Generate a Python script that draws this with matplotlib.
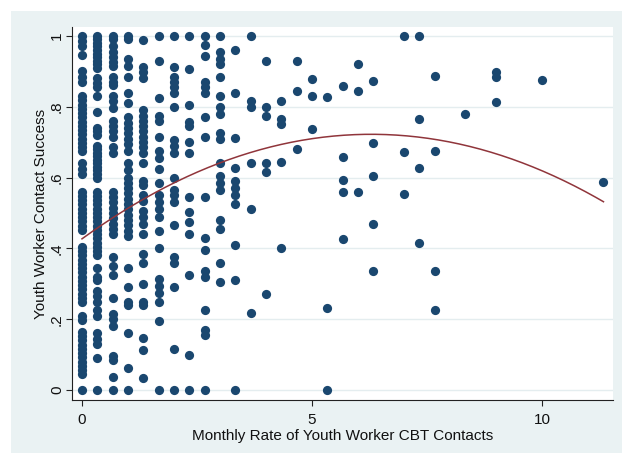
import numpy as np
import matplotlib
matplotlib.use("Agg")
import matplotlib.pyplot as plt
from matplotlib.patches import Rectangle

plt.rcParams['font.family'] = ['Liberation Sans', 'DejaVu Sans']

# Monthly rate of youth worker CBT contacts (one entry per observed level)
rates = [0.0, 0.333, 0.667, 1.0, 1.333, 1.667, 2.0, 2.333, 2.667, 3.0,
         3.333, 3.667, 4.0, 4.333, 4.667, 5.0, 5.333, 5.667, 6.0, 6.333,
         7.0, 7.333, 7.667, 8.333, 9.0, 10.0, 11.333]

# Youth worker contact success for the cases at each rate level
success = [
    [1.0, 0.985, 0.97, 0.945, 0.90, 0.885, 0.87,
     0.83, 0.818, 0.806, 0.794, 0.782, 0.77, 0.758, 0.746, 0.734, 0.722, 0.71, 0.698, 0.686, 0.674,
     0.64, 0.625, 0.61,
     0.56, 0.548, 0.536, 0.524, 0.512, 0.5, 0.488, 0.476, 0.464, 0.452,
     0.404, 0.392, 0.38, 0.368, 0.356, 0.344, 0.332, 0.32, 0.308, 0.296, 0.284, 0.272, 0.26, 0.248,
     0.21, 0.197,
     0.164, 0.152, 0.14, 0.128, 0.116, 0.104, 0.092, 0.08, 0.068, 0.056, 0.044, 0.0],
    [1.0, 0.99, 0.98, 0.97, 0.96, 0.95, 0.94, 0.93, 0.92, 0.91,
     0.88, 0.867, 0.855, 0.83, 0.785, 0.74, 0.73, 0.72,
     0.69, 0.68, 0.67, 0.66, 0.65, 0.64, 0.63, 0.62, 0.61, 0.6,
     0.56, 0.548, 0.536, 0.524, 0.512, 0.5, 0.488, 0.476, 0.464, 0.452, 0.44, 0.428, 0.416, 0.404,
     0.392, 0.38, 0.345, 0.32, 0.31, 0.28, 0.265, 0.25, 0.225, 0.21,
     0.16, 0.145, 0.13, 0.09, 0.0],
    [1.0, 0.99, 0.97, 0.955, 0.94, 0.925, 0.915, 0.885, 0.87, 0.86,
     0.83, 0.815, 0.795, 0.76, 0.745, 0.73, 0.715, 0.685, 0.67,
     0.56, 0.545, 0.53, 0.515, 0.5, 0.485, 0.47, 0.455, 0.44,
     0.375, 0.35, 0.325, 0.26, 0.215, 0.2, 0.18, 0.095, 0.085, 0.037, 0.0],
    [1.0, 0.99, 0.935, 0.915, 0.885, 0.84, 0.81, 0.77, 0.755, 0.74, 0.725, 0.71, 0.695,
     0.675, 0.64, 0.62, 0.6, 0.585, 0.57, 0.555, 0.54, 0.525, 0.51, 0.495, 0.48, 0.465,
     0.45, 0.435, 0.345, 0.29, 0.25, 0.24, 0.16, 0.062, 0.0],
    [0.987, 0.913, 0.898, 0.881, 0.79, 0.775, 0.76, 0.745, 0.73, 0.715, 0.70, 0.685,
     0.67, 0.64, 0.59, 0.58, 0.55, 0.535, 0.505, 0.49, 0.47, 0.44, 0.385, 0.36, 0.3,
     0.25, 0.24, 0.147, 0.113, 0.034],
    [1.0, 0.93, 0.825, 0.775, 0.76, 0.715, 0.675, 0.655, 0.625, 0.585, 0.55, 0.53,
     0.51, 0.49, 0.45, 0.4, 0.315, 0.295, 0.275, 0.25, 0.195, 0.0],
    [1.0, 0.913, 0.885, 0.87, 0.855, 0.84, 0.8, 0.705, 0.69, 0.67, 0.6, 0.565, 0.55,
     0.53, 0.465, 0.375, 0.36, 0.29, 0.115, 0.0],
    [1.0, 0.907, 0.805, 0.757, 0.745, 0.7, 0.67, 0.546, 0.503, 0.475, 0.44, 0.325, 0.1, 0.0],
    [1.0, 0.975, 0.943, 0.87, 0.855, 0.84, 0.77, 0.715, 0.545, 0.43, 0.395, 0.335,
     0.32, 0.225, 0.17, 0.155, 0.0],
    [1.0, 0.955, 0.935, 0.92, 0.885, 0.83, 0.8, 0.78, 0.725, 0.71, 0.64, 0.605, 0.585,
     0.565, 0.48, 0.455, 0.36, 0.305],
    [0.96, 0.84, 0.712, 0.627, 0.59, 0.57, 0.55, 0.525, 0.41, 0.31, 0.0],
    [1.0, 0.815, 0.8, 0.64, 0.51, 0.217],
    [0.93, 0.8, 0.775, 0.64, 0.615, 0.27],
    [0.815, 0.765, 0.75, 0.645, 0.4],
    [0.93, 0.843, 0.68],
    [0.878, 0.83, 0.737],
    [0.828, 0.232, 0.0],
    [0.858, 0.658, 0.593, 0.56, 0.427],
    [0.92, 0.843, 0.56],
    [0.872, 0.698, 0.604, 0.469, 0.336],
    [1.0, 0.673, 0.553],
    [1.0, 0.766, 0.626, 0.416],
    [0.887, 0.676, 0.336, 0.226],
    [0.778],
    [0.899, 0.885, 0.813],
    [0.874],
    [0.588],
]

# Quadratic prediction: success = b0 + b1*rate + b2*rate^2
fit_b0 = 0.427
fit_b1 = 0.0939
fit_b2 = -0.00747

y_ticks = [0, 0.2, 0.4, 0.6, 0.8, 1.0]
y_tick_labels = ['0', '.2', '.4', '.6', '.8', '1']
x_ticks = [0, 5, 10]
x_tick_labels = ['0', '5', '10']

navy = '#1a476f'
maroon = '#90353b'
region_bg = '#eaf2f3'

x = np.concatenate([[r] * len(s) for r, s in zip(rates, success)])
y = np.concatenate([np.asarray(s, dtype=float) for s in success])

W, H = 622, 454
fig = plt.figure(figsize=(W / 100, H / 100), dpi=100)
fig.patch.set_facecolor('white')
fig.patches.append(Rectangle((11 / W, 1 - 453 / H), (W - 11) / W, (453 - 11) / H,
                             transform=fig.transFigure, facecolor=region_bg,
                             edgecolor='none', zorder=-1))

ax = fig.add_axes([72 / W, 1 - 400 / H, (613 - 72) / W, (400 - 27) / H])
ax.set_facecolor('white')

ax.scatter(x, y, s=44, color=navy, linewidths=0, zorder=2)

fit_x = np.linspace(min(rates), max(rates), 200)
fit_y = fit_b0 + fit_b1 * fit_x + fit_b2 * fit_x ** 2
ax.plot(fit_x, fit_y, color=maroon, lw=1.1, zorder=3)

ax.set_xlim(-0.217, 11.54)
ax.set_ylim(-0.028, 1.025)

ax.set_xticks(x_ticks)
ax.set_xticklabels(x_tick_labels)
ax.set_yticks(y_ticks)
ax.set_yticklabels(y_tick_labels, rotation=90, rotation_mode='anchor',
                   ha='center', va='baseline')

ax.yaxis.grid(True, color='#e4edef', lw=1.0)
ax.set_axisbelow(True)

for side in ('top', 'right'):
    ax.spines[side].set_visible(False)
for side in ('left', 'bottom'):
    ax.spines[side].set_color('#222222')
    ax.spines[side].set_linewidth(0.8)

ax.tick_params(axis='both', length=4.5, width=0.8, color='#222222',
               labelsize=11, labelcolor='#111111')
ax.tick_params(axis='x', pad=4.5)
ax.tick_params(axis='y', pad=3.5)

ax.set_xlabel('Monthly Rate of Youth Worker CBT Contacts', fontsize=11,
              color='#111111', va='baseline')
ax.xaxis.set_label_coords(0.5, (400 - 440) / 373)
ax.set_ylabel('Youth Worker Contact Success', fontsize=11,
              color='#111111', va='baseline')
ax.yaxis.set_label_coords((45 - 72) / 541, 0.5)

fig.savefig('out.png', dpi=100)
